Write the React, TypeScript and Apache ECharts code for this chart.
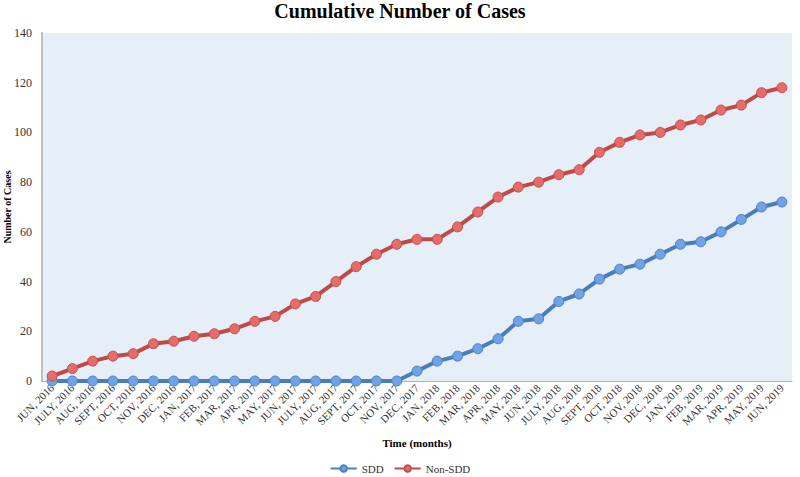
import React, { useEffect, useRef } from "react";
import * as echarts from "echarts";

const months = [
  "JUN, 2016", "JULY, 2016", "AUG, 2016", "SEPT, 2016", "OCT, 2016", "NOV, 2016", "DEC, 2016",
  "JAN, 2017", "FEB, 2017", "MAR, 2017", "APR, 2017", "MAY, 2017", "JUN, 2017", "JULY, 2017",
  "AUG, 2017", "SEPT, 2017", "OCT, 2017", "NOV, 2017", "DEC, 2017",
  "JAN, 2018", "FEB, 2018", "MAR, 2018", "APR, 2018", "MAY, 2018", "JUN, 2018", "JULY, 2018",
  "AUG, 2018", "SEPT, 2018", "OCT, 2018", "NOV, 2018", "DEC, 2018",
  "JAN, 2019", "FEB, 2019", "MAR, 2019", "APR, 2019", "MAY, 2019", "JUN, 2019",
];

const sddValues = [
  0, 0, 0, 0, 0, 0, 0, 0, 0, 0, 0, 0, 0, 0, 0, 0, 0, 0,
  4, 8, 10, 13, 17, 24, 25, 32, 35, 41, 45, 47, 51, 55, 56, 60, 65, 70, 72,
];

const nonSddValues = [
  2, 5, 8, 10, 11, 15, 16, 18, 19, 21, 24, 26, 31, 34, 40, 46, 51, 55,
  57, 57, 62, 68, 74, 78, 80, 83, 85, 92, 96, 99, 100, 103, 105, 109, 111, 116, 118,
];

const yTicks = { min: 0, max: 140, interval: 20 };

const serif = "'Liberation Serif', 'Times New Roman', serif";

export default function App() {
  const ref = useRef<HTMLDivElement>(null);
  useEffect(() => {
    if (!ref.current) return;
    const chart = echarts.init(ref.current, null, { renderer: "svg" });
    chart.setOption({
      animation: false,
      backgroundColor: "#ffffff",
      title: {
        text: "Cumulative Number of Cases",
        left: "center",
        top: -4,
        textStyle: { fontFamily: serif, fontSize: 20, fontWeight: "bold", color: "#000" },
      },
      legend: {
        bottom: -2,
        left: "center",
        itemWidth: 26,
        itemHeight: 8,
        itemGap: 10,
        textStyle: { fontFamily: serif, fontSize: 11, color: "#333" },
        data: ["SDD", "Non-SDD"],
      },
      grid: {
        left: 42,
        right: 8,
        top: 33,
        bottom: 96,
        containLabel: false,
        outerBoundsMode: "none",
        show: true,
        backgroundColor: "#E6EEF8",
        borderWidth: 0,
      },
      xAxis: {
        type: "category",
        data: months,
        boundaryGap: true,
        name: "Time (months)",
        nameLocation: "middle",
        nameGap: 56,
        nameMoveOverlap: false,
        nameTextStyle: { fontFamily: serif, fontSize: 11, fontWeight: "bold", color: "#000" },
        axisLine: { lineStyle: { color: "#A6B4C8", width: 1 } },
        axisTick: { show: false },
        axisLabel: {
          rotate: 45,
          interval: 0,
          fontFamily: serif,
          fontSize: 11,
          color: "#333",
          margin: 5,
        },
        splitLine: { show: false },
      },
      yAxis: {
        type: "value",
        min: yTicks.min,
        max: yTicks.max,
        interval: yTicks.interval,
        name: "Number of Cases",
        nameLocation: "middle",
        nameGap: 30,
        nameMoveOverlap: false,
        nameTextStyle: { fontFamily: serif, fontSize: 10, fontWeight: "bold", color: "#000" },
        axisLine: { show: true, lineStyle: { color: "#BFBFBF", width: 2 } },
        axisTick: { show: false },
        axisLabel: { fontFamily: serif, fontSize: 12, color: "#333", margin: 10 },
        splitLine: { show: false },
      },
      series: [
        {
          name: "SDD",
          type: "line",
          data: sddValues,
          symbol: "circle",
          symbolSize: 10,
          lineStyle: { color: "#4A7EBB", width: 4 },
          itemStyle: { color: "#6FA2E6", borderColor: "#4F81BD", borderWidth: 1 },
          z: 2,
        },
        {
          name: "Non-SDD",
          type: "line",
          data: nonSddValues,
          symbol: "circle",
          symbolSize: 10,
          lineStyle: { color: "#BE4B48", width: 4 },
          itemStyle: { color: "#E56C6A", borderColor: "#C0504D", borderWidth: 1 },
          z: 3,
        },
      ],
    });
    return () => chart.dispose();
  }, []);
  return <div ref={ref} style={{ width: 800, height: 477, position: "absolute", left: 0, top: 0 }} />;
}
